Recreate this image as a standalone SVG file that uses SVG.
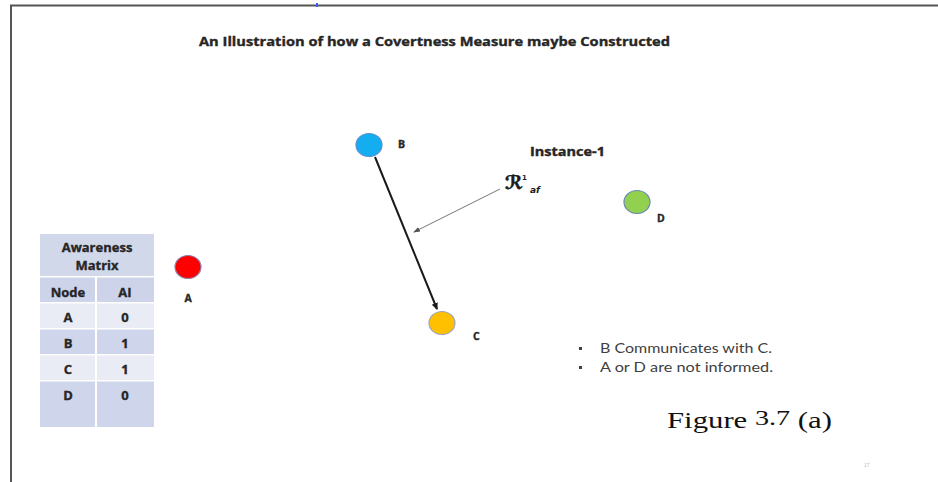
<svg xmlns="http://www.w3.org/2000/svg" width="938" height="482" viewBox="0 0 938 482">
  <defs>
    <style>
      .lbl { font-family: "Open Sans", "Liberation Sans", sans-serif; font-weight: bold; fill: #262626; stroke: #262626; stroke-width: 0.35; }
      .cell { font-family: "Open Sans", "Liberation Sans", sans-serif; font-weight: bold; font-size: 13px; fill: #262626; stroke: #262626; stroke-width: 0.35; text-anchor: middle; }
      .note { font-family: Lato, "Open Sans", "Liberation Sans", sans-serif; font-size: 13px; fill: #404040; }
      .bullet { fill: #404040; }
      .node { stroke-width: 1.2; }
    </style>
    <marker id="arrowBlack" markerWidth="8" markerHeight="8" refX="6" refY="4" orient="auto" markerUnits="userSpaceOnUse">
      <path d="M0,0.8 L7,4 L0,7.2 Z" fill="#1a1a1a"/>
    </marker>
    <marker id="arrowGray" markerWidth="8" markerHeight="8" refX="6" refY="4" orient="auto" markerUnits="userSpaceOnUse">
      <path d="M0,1.5 L7,4 L0,6.5 Z" fill="#555"/>
    </marker>
  </defs>

  <rect width="938" height="482" fill="#ffffff"/>

  <!-- frame -->
  <g id="frame" fill="none" stroke="#555" stroke-width="2">
    <path d="M11,482 L11,5.5 L938,5.5"/>
  </g>
  <rect x="316" y="3" width="2" height="4" fill="#3a5cff"/>

  <!-- title -->
  <text class="lbl" x="199" y="46" font-size="12.5" textLength="471" lengthAdjust="spacingAndGlyphs">An Illustration of how a  Covertness Measure maybe Constructed</text>

  <!-- awareness matrix -->
  <g id="awareness-matrix">
    <rect x="40" y="234" width="114" height="42" fill="#d0d8ea"/>
    <rect x="40" y="277.5" width="55" height="24.5" fill="#cdd3e8"/>
    <rect x="97" y="277.5" width="57" height="24.5" fill="#cdd3e8"/>
    <rect x="40" y="303.5" width="55" height="24.5" fill="#e9ebf5"/>
    <rect x="97" y="303.5" width="57" height="24.5" fill="#e9ebf5"/>
    <rect x="40" y="329.5" width="55" height="24.5" fill="#cfd5ea"/>
    <rect x="97" y="329.5" width="57" height="24.5" fill="#cfd5ea"/>
    <rect x="40" y="355.5" width="55" height="24.5" fill="#e9ebf5"/>
    <rect x="97" y="355.5" width="57" height="24.5" fill="#e9ebf5"/>
    <rect x="40" y="381.5" width="55" height="45.5" fill="#cfd5ea"/>
    <rect x="97" y="381.5" width="57" height="45.5" fill="#cfd5ea"/>
    <text class="cell" x="97" y="252">Awareness</text>
    <text class="cell" x="97" y="270">Matrix</text>
    <text class="cell" x="68" y="297">Node</text>
    <text class="cell" x="125" y="297">AI</text>
    <text class="cell" x="68" y="322">A</text>
    <text class="cell" x="125" y="322">0</text>
    <text class="cell" x="68" y="348">B</text>
    <text class="cell" x="125" y="348">1</text>
    <text class="cell" x="68" y="374">C</text>
    <text class="cell" x="125" y="374">1</text>
    <text class="cell" x="68" y="400">D</text>
    <text class="cell" x="125" y="400">0</text>
  </g>

  <!-- connectors -->
  <g id="connectors" fill="none">
    <line x1="375" y1="157" x2="437" y2="309" stroke="#1a1a1a" stroke-width="2" marker-end="url(#arrowBlack)"/>
    <line x1="500" y1="189" x2="414" y2="232" stroke="#777" stroke-width="1" marker-end="url(#arrowGray)"/>
  </g>

  <!-- nodes -->
  <g id="node-A">
    <ellipse class="node" cx="188" cy="267" rx="13" ry="11.5" fill="#ff0000" stroke="#8e7fb0"/>
    <text class="lbl" x="188" y="302" font-size="10.5" text-anchor="middle">A</text>
  </g>
  <g id="node-B">
    <ellipse class="node" cx="369" cy="145" rx="13" ry="11.5" fill="#13adf0" stroke="#5b8fd0"/>
    <text class="lbl" x="398" y="148" font-size="10.5">B</text>
  </g>
  <g id="node-C">
    <ellipse class="node" cx="442" cy="323" rx="13" ry="11.5" fill="#ffc000" stroke="#9aa6c4"/>
    <text class="lbl" x="473" y="340" font-size="10.5">C</text>
  </g>
  <g id="node-D">
    <ellipse class="node" cx="637" cy="202" rx="13" ry="11.5" fill="#92d050" stroke="#6b87b8"/>
    <text class="lbl" x="657" y="222" font-size="10.5">D</text>
  </g>

  <!-- instance label and reach term -->
  <text class="lbl" x="530" y="156" font-size="11.5" textLength="75" lengthAdjust="spacingAndGlyphs">Instance-1</text>
  <g id="reach-label" font-family="DejaVu Sans, sans-serif" font-weight="bold" fill="#1a1a1a">
    <text x="505" y="189" font-size="19" font-style="italic" stroke="#1a1a1a" stroke-width="0.6">ℛ</text>
    <text x="522" y="180" font-size="7">1</text>
    <text x="530" y="193" font-size="9" font-style="italic">af</text>
  </g>

  <!-- notes -->
  <g id="notes">
    <rect class="bullet" x="579" y="347" width="3" height="3"/>
    <text class="note" x="600" y="353" textLength="172" lengthAdjust="spacingAndGlyphs">B Communicates with C.</text>
    <rect class="bullet" x="579" y="366" width="3" height="3"/>
    <text class="note" x="600" y="372" textLength="173" lengthAdjust="spacingAndGlyphs">A or D are not informed.</text>
  </g>

  <!-- caption -->
  <text x="667" y="428" font-family="Liberation Serif, serif" font-size="24" fill="#111" textLength="165" lengthAdjust="spacingAndGlyphs">Figure <tspan dy="-3" font-size="22">3.7</tspan><tspan dy="3"> (a)</tspan></text>

  <text x="864" y="467" font-family="Liberation Sans, sans-serif" font-size="5" fill="#bbb">17</text>
</svg>
